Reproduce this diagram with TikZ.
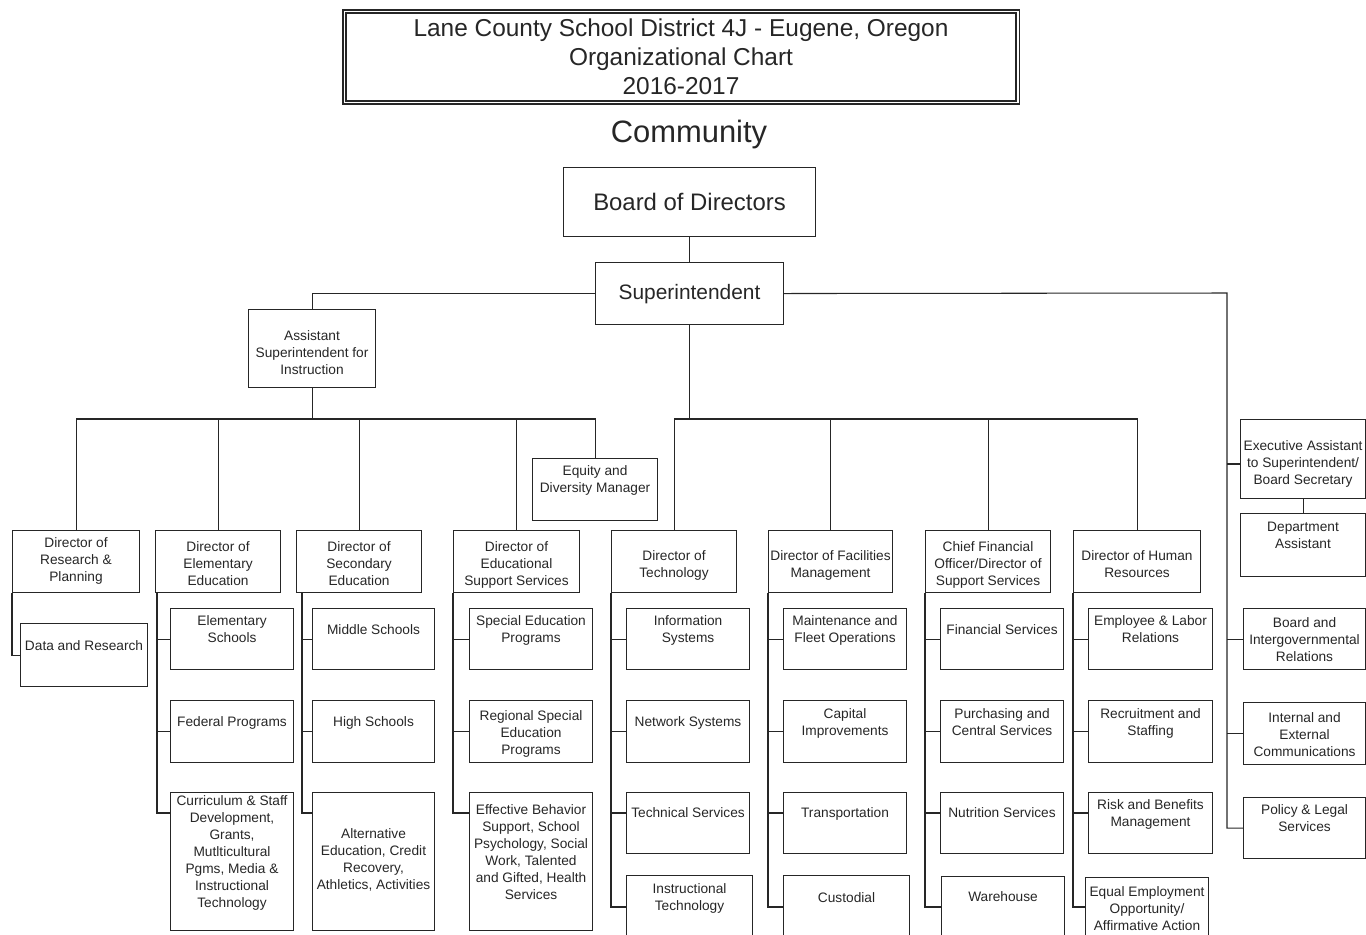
\documentclass[tikz,border=0pt]{standalone}
\usepackage{fontspec}
\setmainfont{Liberation Sans}

\begin{document}
\begin{tikzpicture}
[x=0.02cm,y=-0.02cm,line width=0.6pt,color=black!85,%
  box/.style 2 args={draw,rectangle,anchor=north west,inner sep=0pt,%
    minimum width=#1*0.02cm,minimum height=#2*0.02cm},%
  txt/.style 2 args={label={[anchor=north,yshift=-(#1-5.5)*0.02cm,%
    align=center,inner sep=0pt,font=\fontsize{7.8}{9.6}\selectfont]north:{#2}}}]
\clip (0,0) rectangle (1366,934);
\node[draw,double,double distance=1.13pt,minimum width=673*0.02cm,
  minimum height=91*0.02cm,align=center,font=\fontsize{13.9}{16.5}\selectfont]
  (title) at (681,57) {Lane County School District 4J - Eugene, Oregon\\Organizational Chart\\2016-2017};
\node[font=\fontsize{17.6}{20}\selectfont] (comm) at (689,134) {Community};
\node[box={252}{69},txt={31}{\fontsize{13.6}{16}\selectfont Board of Directors}] (board) at (563,167) {};
\node[box={188}{62},txt={27}{\fontsize{11.9}{14}\selectfont Superintendent}] (sup) at (595,262) {};

\node[box={127}{78},txt={27}{Assistant\\Superintendent for\\Instruction}] (asst) at (248,309) {};
\node[box={125}{62},txt={13}{Equity and\\Diversity Manager}] (eq) at (532,458) {};
\node[box={125}{79},txt={27}{Executive Assistant\\to Superintendent/\\Board Secretary}] (exec) at (1240,419) {};
\node[box={125}{63},txt={14}{Department\\Assistant}] (dept) at (1240,513) {};
\node[box={122}{61},txt={15}{Board and\\Intergovernmental\\Relations}] (bir) at (1243,608) {};
\node[box={122}{62},txt={16}{Internal and\\External\\Communications}] (iec) at (1243,702) {};
\node[box={122}{61},txt={13}{Policy \& Legal\\Services}] (pls) at (1243,797) {};

\node[box={127}{62},txt={13}{Director of\\Research \&\\Planning}] (res) at (12,530) {};
\node[box={125}{62},txt={17}{Director of\\Elementary\\Education}] (elem) at (155,530) {};
\node[box={125}{62},txt={17}{Director of\\Secondary\\Education}] (sec) at (296,530) {};
\node[box={126}{62},txt={17}{Director of\\Educational\\Support Services}] (esup) at (453,530) {};
\node[box={125}{62},txt={26}{Director of\\Technology}] (tech) at (611,530) {};
\node[box={124}{62},txt={26}{Director of Facilities\\Management}] (fac) at (768,530) {};
\node[box={125}{62},txt={17}{Chief Financial\\Officer/Director of\\Support Services}] (cfo) at (925,530) {};
\node[box={127}{62},txt={26}{Director of Human\\Resources}] (hr) at (1073,530) {};

\node[box={127}{63},txt={23}{Data and Research}] (dar) at (20,623) {};

\node[box={123}{61},txt={13}{Elementary\\Schools}] (es) at (170,608) {};
\node[box={123}{62},txt={22}{Federal Programs}] (fp) at (170,700) {};
\node[box={123}{138},txt={9}{Curriculum \& Staff\\Development,\\Grants,\\Mutlticultural\\Pgms, Media \&\\Instructional\\Technology}] (csd) at (170,792) {};

\node[box={122}{61},txt={22}{Middle Schools}] (ms) at (312,608) {};
\node[box={122}{62},txt={22}{High Schools}] (hs) at (312,700) {};
\node[box={122}{138},txt={42}{Alternative\\Education, Credit\\Recovery,\\Athletics, Activities}] (alt) at (312,792) {};

\node[box={123}{61},txt={13}{Special Education\\Programs}] (sep) at (469,608) {};
\node[box={123}{62},txt={16}{Regional Special\\Education\\Programs}] (rsep) at (469,700) {};
\node[box={123}{138},txt={18}{Effective Behavior\\Support, School\\Psychology, Social\\Work, Talented\\and Gifted, Health\\Services}] (ebs) at (469,792) {};

\node[box={123}{61},txt={13}{Information\\Systems}] (infs) at (626,608) {};
\node[box={123}{62},txt={22}{Network Systems}] (nets) at (626,700) {};
\node[box={123}{61},txt={21}{Technical Services}] (tecs) at (626,792) {};
\node[box={126}{80},txt={14}{Instructional\\Technology}] (inst) at (626,875) {};

\node[box={123}{61},txt={13}{Maintenance and\\Fleet Operations}] (mfo) at (783,608) {};
\node[box={123}{62},txt={14}{Capital\\Improvements}] (capi) at (783,700) {};
\node[box={123}{61},txt={21}{Transportation}] (trn) at (783,792) {};
\node[box={126}{80},txt={23}{Custodial}] (cus) at (783,875) {};

\node[box={123}{61},txt={22}{Financial Services}] (fins) at (940,608) {};
\node[box={123}{62},txt={14}{Purchasing and\\Central Services}] (pcs) at (940,700) {};
\node[box={123}{61},txt={21}{Nutrition Services}] (nut) at (940,792) {};
\node[box={123}{80},txt={21}{Warehouse}] (wh) at (941,876) {};

\node[box={124}{61},txt={13}{Employee \& Labor\\Relations}] (elr) at (1088,608) {};
\node[box={124}{62},txt={14}{Recruitment and\\Staffing}] (rst) at (1088,700) {};
\node[box={124}{61},txt={13}{Risk and Benefits\\Management}] (rbm) at (1088,792) {};
\node[box={123}{80},txt={15}{Equal Employment\\Opportunity/\\Affirmative Action}] (eeo) at (1085,877) {};

\draw (board.south) -- (sup.north);
\draw (sup.west) -| (asst.north);
\coordinate (lb) at (313,419);
\draw (asst.south) -- (asst.south |- lb);
\draw (res.north) -- (res.north |- lb) -| (eq.north);
\foreach \n in {elem,sec,esup} \draw (\n.north) -- (\n.north |- lb);
\coordinate (cb) at (689,419);
\draw (sup.south) -- (sup.south |- cb);
\draw (tech.north) |- (hr.north |- cb) -- (hr.north);
\foreach \n in {fac,cfo} \draw (\n.north) -- (\n.north |- cb);
\coordinate (rb) at (1227,293);
\draw (sup.east) -- (rb) |- (pls.west);
\coordinate (exa) at ([shift={(0,45)}]exec.north west);
\draw (exa) -- (exa -| rb);
\foreach \n in {bir,iec} \draw (\n.west) -- (\n.west -| rb);
\draw (exec.south) -- (dept.north);

\draw (res.south west) |- (dar.west);
\foreach \c in {es,fp} \draw ([shift={(2,0)}]elem.south west) |- (\c.west);
\draw ([shift={(2,0)}]elem.south west) |- ([shift={(0,21)}]csd.north west);
\foreach \c in {ms,hs} \draw ([shift={(6,0)}]sec.south west) |- (\c.west);
\draw ([shift={(6,0)}]sec.south west) |- ([shift={(0,21)}]alt.north west);
\foreach \c in {sep,rsep} \draw (esup.south west) |- (\c.west);
\draw (esup.south west) |- ([shift={(0,21)}]ebs.north west);
\foreach \c in {infs,nets} \draw (tech.south west) |- (\c.west);
\draw (tech.south west) |- ([shift={(0,21)}]tecs.north west);
\draw (tech.south west) |- ([shift={(0,32)}]inst.north west);
\foreach \c in {mfo,capi} \draw (fac.south west) |- (\c.west);
\draw (fac.south west) |- ([shift={(0,21)}]trn.north west);
\draw (fac.south west) |- ([shift={(0,32)}]cus.north west);
\foreach \c in {fins,pcs} \draw (cfo.south west) |- (\c.west);
\draw (cfo.south west) |- ([shift={(0,21)}]nut.north west);
\draw (cfo.south west) |- ([shift={(0,31)}]wh.north west);
\foreach \c in {elr,rst} \draw (hr.south west) |- (\c.west);
\draw (hr.south west) |- ([shift={(0,21)}]rbm.north west);
\draw (hr.south west) |- ([shift={(0,30)}]eeo.north west);
\end{tikzpicture}
\end{document}
